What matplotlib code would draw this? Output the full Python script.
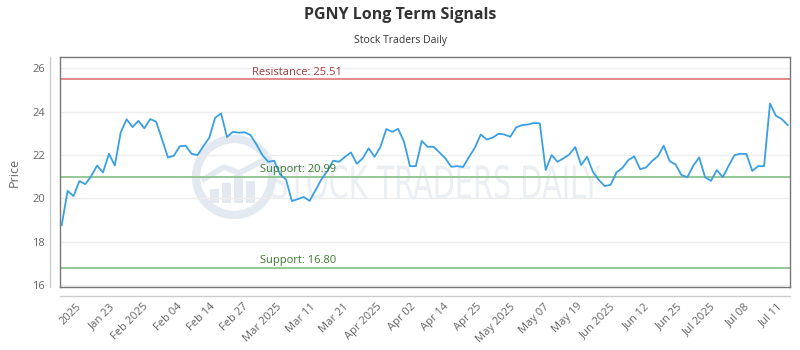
import numpy as np
import matplotlib
matplotlib.use("Agg")
import matplotlib.pyplot as plt
from matplotlib.textpath import TextPath
from matplotlib.patches import PathPatch, Circle, Rectangle
from matplotlib.font_manager import FontProperties
from matplotlib.transforms import Affine2D, IdentityTransform
from matplotlib.lines import Line2D

# ---------------- data ----------------
prices = [
    18.77, 20.35, 20.11, 20.80, 20.66, 21.03, 21.52, 21.20, 22.06, 21.52,
    23.05, 23.65, 23.29, 23.58, 23.23, 23.66, 23.54, 22.72, 21.89, 21.97,
    22.41, 22.43, 22.06, 22.00, 22.41, 22.80, 23.72, 23.92, 22.83, 23.07,
    23.03, 23.05, 22.92, 22.49, 22.00, 21.69, 21.74, 21.11, 20.88, 19.88,
    19.97, 20.07, 19.89, 20.38, 20.88, 21.26, 21.74, 21.69, 21.92, 22.12,
    21.60, 21.85, 22.31, 21.92, 22.38, 23.20, 23.07, 23.21, 22.61, 21.49,
    21.49, 22.65, 22.38, 22.38, 22.12, 21.85, 21.46, 21.49, 21.45, 21.91,
    22.34, 22.95, 22.72, 22.80, 22.98, 22.95, 22.84, 23.28, 23.38, 23.41,
    23.48, 23.46, 21.31, 22.00, 21.69, 21.85, 22.03, 22.37, 21.54, 21.92,
    21.23, 20.85, 20.57, 20.63, 21.20, 21.41, 21.77, 21.94, 21.35, 21.43,
    21.72, 21.95, 22.43, 21.72, 21.57, 21.08, 20.98, 21.51, 21.89, 20.98,
    20.81, 21.31, 20.98, 21.51, 22.00, 22.06, 22.05, 21.27, 21.49, 21.49,
    24.38, 23.81, 23.66, 23.38,
]
tick_labels = ["2025", "Jan 23", "Feb 2025", "Feb 04", "Feb 14", "Feb 27",
               "Mar 2025", "Mar 11", "Mar 21", "Apr 2025", "Apr 02", "Apr 14",
               "Apr 25", "May 2025", "May 07", "May 19", "Jun 2025", "Jun 12",
               "Jun 25", "Jul 2025", "Jul 08", "Jul 11"]
resistance = 25.51
supports = [20.99, 16.80]
yticks = [16, 18, 20, 22, 24, 26]

title = "PGNY Long Term Signals"
subtitle = "Stock Traders Daily"

# ---------------- layout ----------------
W, H = 800, 350
FONT = ["Open Sans", "DejaVu Sans"]
plt.rcParams["font.family"] = FONT

fig = plt.figure(figsize=(W / 100, H / 100), dpi=100)
L, R, T, B = 60, 790, 57, 287
ax = fig.add_axes([L / W, 1 - B / H, (R - L) / W, (B - T) / H])

n = len(prices)
x = np.arange(n)
first_px, last_px = 61.7, 787.7
s = (last_px - first_px) / (n - 1)
ax.set_xlim(-(first_px - L) / s, (n - 1) + (R - last_px) / s)
ax.set_ylim(15.92, 26.52)

# watermark (display coordinates)
wm_col = "#e3e9f0"
cx, cy, rad = 234, H - 177, 38
ax.add_patch(Circle((cx, cy), rad, transform=IdentityTransform(), fill=False,
                    lw=6, ec=wm_col, zorder=0.5))
for bx, bh in zip([-24, -12, 0, 12], [14, 20, 28, 22]):
    ax.add_patch(Rectangle((cx + bx, cy - 26), 9, bh, transform=IdentityTransform(),
                           fc=wm_col, ec="none", zorder=0.5))
ax.add_line(Line2D([cx - 30, cx - 10, cx + 5, cx + 28], [cy - 2, cy + 10, cy + 4, cy + 16],
                   transform=IdentityTransform(), color=wm_col, lw=4, zorder=0.5))
tp = TextPath((0, 0), "STOCK TRADERS DAILY", size=40,
              prop=FontProperties(family="DejaVu Sans"))
ext = tp.get_extents()
tx0, tx1, ty0, ty1 = 272, 600, H - 199, H - 165
tr = (Affine2D().translate(-ext.x0, -ext.y0)
      .scale((tx1 - tx0) / ext.width, (ty1 - ty0) / ext.height)
      .translate(tx0, ty0))
ax.add_patch(PathPatch(tr.transform_path(tp), transform=IdentityTransform(),
                       fc="#ebeff4", ec="none", zorder=0.4))

# grid
ax.set_yticks(yticks)
ax.grid(axis="y", color="#eeeeee", lw=1)
ax.set_axisbelow(True)

# lines
ax.axhline(resistance, color="#dd8080", lw=1.3, zorder=2)
for sp in supports:
    ax.axhline(sp, color="#8cc48c", lw=1.3, zorder=2)

ax.plot(x, prices, color="#3a9fe3", lw=1.3, zorder=3)

lab_kw = dict(xycoords=("axes fraction", "data"), textcoords="offset points",
              fontsize=8, va="bottom", ha="left")
ax.annotate(f"Resistance: {resistance:.2f}", xy=((252 - L) / (R - L), resistance),
            xytext=(0, 1), color="#9e3a3a", **lab_kw)
for sp in supports:
    ax.annotate(f"Support: {sp:.2f}", xy=((260 - L) / (R - L), sp),
                xytext=(0, 1.5), color="#3b7a2e", **lab_kw)

# ticks
tick_px = np.linspace(80, 781, len(tick_labels))
ax.set_xticks((tick_px - first_px) / s)
ax.set_xticklabels(tick_labels, rotation=45, ha="right", va="center",
                   rotation_mode="anchor")
ax.tick_params(axis="x", length=0, pad=13, labelsize=8, labelcolor="#666666")
ax.tick_params(axis="y", length=0, pad=11, labelsize=8, labelcolor="#666666")
ax.set_ylabel("Price", fontsize=9, color="#666666", labelpad=8)

for sp_ in ax.spines.values():
    sp_.set_color("#777777")
    sp_.set_linewidth(1)

# outer axis lines
fig.add_artist(Line2D([50 / W, 50 / W], [1 - B / H, 1 - T / H], color="#cccccc",
                      lw=1, transform=fig.transFigure))
fig.add_artist(Line2D([L / W, R / W], [1 - 296 / H, 1 - 296 / H], color="#cccccc",
                      lw=1, transform=fig.transFigure))

fig.text(0.5, 1 - 15 / H, title, ha="center", va="center", fontsize=11.5,
         fontweight="bold", color="#333333")
fig.text(0.5, 1 - 40 / H, subtitle, ha="center", va="center", fontsize=7.5,
         color="#333333")

fig.savefig("out.png", dpi=100)
